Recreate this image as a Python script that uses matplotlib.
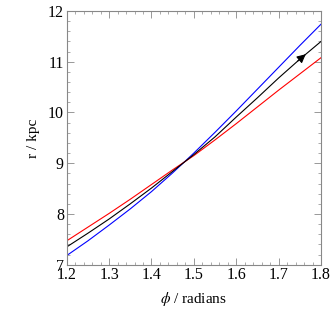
import numpy as np
import matplotlib
matplotlib.use("Agg")
import matplotlib.pyplot as plt
from matplotlib.ticker import MultipleLocator

# angle phi (radians) and radius r (kpc)
phi = [1.2, 1.25, 1.3, 1.35, 1.4, 1.45, 1.5, 1.55, 1.6, 1.65, 1.7, 1.75, 1.8]
r_blue = [7.18, 7.47, 7.78, 8.10, 8.44, 8.81, 9.20, 9.61, 10.03, 10.46, 10.89, 11.32, 11.74]
r_black = [7.35, 7.62, 7.90, 8.20, 8.51, 8.84, 9.17, 9.52, 9.91, 10.29, 10.68, 11.05, 11.40]
r_red = [7.47, 7.74, 8.01, 8.29, 8.58, 8.87, 9.15, 9.46, 9.78, 10.11, 10.44, 10.76, 11.08]

plt.rcParams['font.family'] = 'Liberation Serif'
plt.rcParams['mathtext.fontset'] = 'stix'

fig = plt.figure(figsize=(3.32, 3.21), dpi=100)
ax = fig.add_axes([0.2009, 0.1754, 0.766, 0.7903])

ax.plot(phi, r_blue, color='blue', lw=0.8)
ax.plot(phi, r_red, color='red', lw=0.8)
ax.plot(phi, r_black, color='black', lw=0.8)

# arrowhead on the black curve
a0, a1 = 1.745, 1.764
ax.annotate('', xy=(a1, np.interp(a1, phi, r_black)),
            xytext=(a0, np.interp(a0, phi, r_black)),
            arrowprops=dict(arrowstyle='-|>', color='black', lw=0.8,
                            mutation_scale=13, shrinkA=0, shrinkB=0))

ax.set_xlim(1.2, 1.8)
ax.set_ylim(7, 12)
ax.xaxis.set_major_locator(MultipleLocator(0.1))
ax.xaxis.set_minor_locator(MultipleLocator(0.02))
ax.yaxis.set_major_locator(MultipleLocator(1))
ax.yaxis.set_minor_locator(MultipleLocator(0.2))
ax.tick_params(which='both', direction='in', top=True, right=True,
               color='#888888', labelsize=11.5, pad=2)
ax.tick_params(which='major', length=5, width=0.6)
ax.tick_params(which='minor', length=2.5, width=0.5)
for s in ax.spines.values():
    s.set_color('#888888')
    s.set_linewidth(0.8)

ax.set_xlabel(r'$\phi$ / radians', fontsize=11, labelpad=5)
ax.set_ylabel('r / kpc', fontsize=11, labelpad=6)

fig.savefig('out.png', dpi=100)
